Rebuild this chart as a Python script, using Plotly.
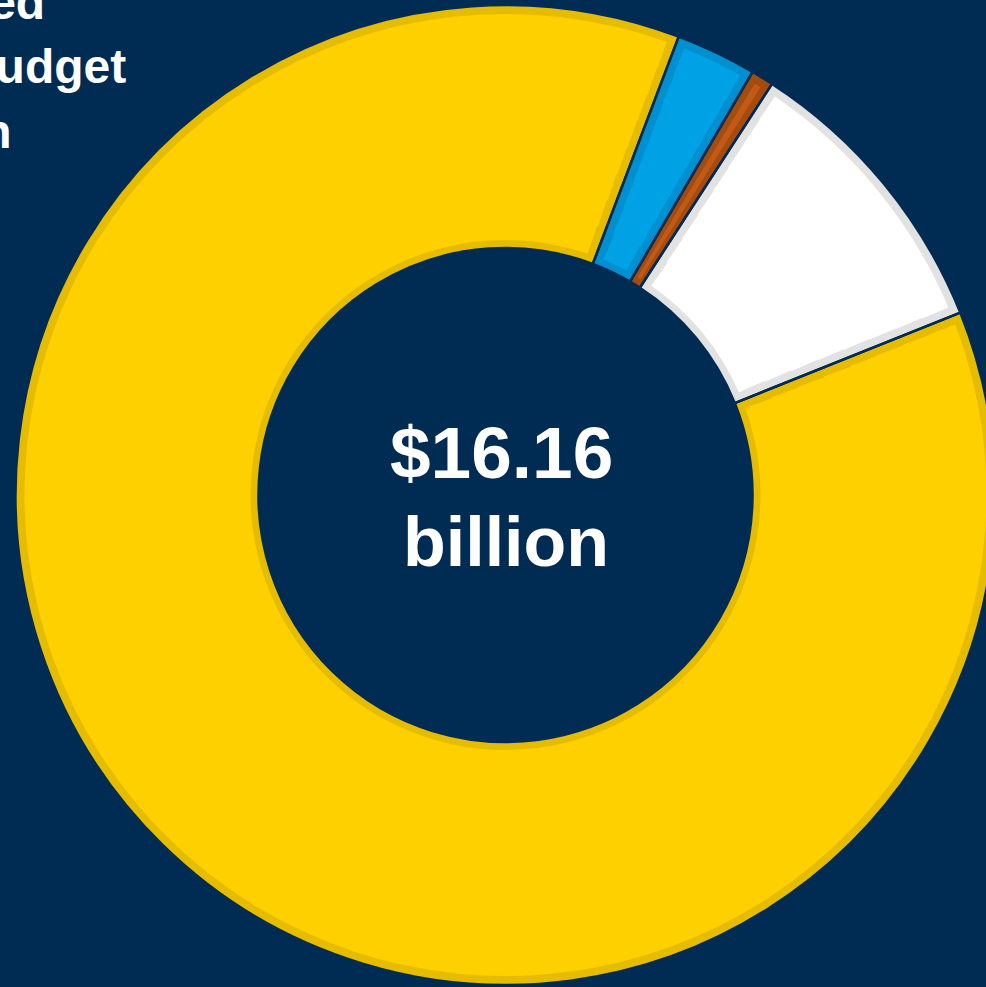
import math
import plotly.graph_objects as go

# Budget breakdown ($ billions), drawn clockwise from the first slice
categories = ["Research programs", "Infrastructure", "Administration", "Education & outreach"]
values = [14.03, 0.43, 0.12, 1.58]
center_lines = ["$16.16", "billion"]
heading_lines = ["Total Enacted", "FY 2021 Budget", "for Research"]

BG = "#002B53"
edge_colors = ["#E6BC00", "#008FCF", "#A64B0E", "#E2E2E2"]
face_colors = ["#FFD000", "#00A2E6", "#C05A16", "#FFFFFF"]
FONT = "Liberation Sans, Arial, Helvetica, sans-serif"

START_ANGLE = 68.15          # degrees clockwise from 12 o'clock
W, H = 996, 987
M = dict(l=15, r=0, t=5, b=2)
PW, PH = W - M["l"] - M["r"], H - M["t"] - M["b"]
R_OUT = min(PW, PH) / 2.0
R_IN = 247.0
EDGE_OUT, EDGE_IN, EDGE_SIDE = 9.0, 8.0, 9.0
N_RINGS = 8

total = sum(values)
spans = [v / total * 360.0 for v in values]
centers, acc = [], START_ANGLE
for sp in spans:
    centers.append((acc + sp / 2.0) % 360.0)
    acc += sp

fig = go.Figure()

# slice rims: full sectors in the darker shade
fig.add_trace(go.Barpolar(
    theta=centers, width=spans,
    base=[R_IN] * len(values), r=[R_OUT - R_IN] * len(values),
    marker=dict(color=edge_colors, line=dict(width=0)),
    hoverinfo="skip", showlegend=False,
))

# slice faces: lighter fill inset from each outline (stacked rings keep
# the side inset close to a constant pixel width)
r0, r1 = R_IN + EDGE_IN, R_OUT - EDGE_OUT
step = (r1 - r0) / N_RINGS
for k in range(N_RINGS):
    a = r0 + k * step
    b = a + step + (1.0 if k < N_RINGS - 1 else 0.0)
    rm = (a + b) / 2.0
    inset = math.degrees(EDGE_SIDE / rm)
    widths = [max(sp - 2 * inset, 0.3 * sp) for sp in spans]
    fig.add_trace(go.Barpolar(
        theta=centers, width=widths,
        base=[a] * len(values), r=[b - a] * len(values),
        marker=dict(color=face_colors, line=dict(width=0)),
        hoverinfo="skip", showlegend=False,
    ))

# donut outline on top: navy seams between slices
fig.add_trace(go.Pie(
    labels=categories, values=values, sort=False,
    direction="clockwise", rotation=START_ANGLE,
    hole=R_IN / R_OUT,
    marker=dict(colors=["rgba(0,0,0,0)"] * len(values), line=dict(color=BG, width=2.5)),
    textinfo="none", hoverinfo="label+value+percent",
    domain=dict(x=[0, 1], y=[0, 1]),
))


def px_x(x):
    return (x - M["l"]) / PW


def px_y(y):
    return (H - M["b"] - y) / PH


annotations = []
# total in the hole
for text, cx, cy, size in [(center_lines[0], 501.5, 452.5, 73), (center_lines[1], 506, 542, 70)]:
    annotations.append(dict(
        text=text, x=px_x(cx), y=px_y(cy), xref="paper", yref="paper",
        xanchor="center", yanchor="middle", showarrow=False, borderpad=0,
        font=dict(family=FONT, size=size, color="white", weight="bold"),
    ))
# heading, running off the top-left corner
for text, rx, cy in zip(heading_lines, [46, 127, 11.5], [2.4, 66.4, 131.4]):
    annotations.append(dict(
        text=text, x=px_x(rx), y=px_y(cy), xref="paper", yref="paper",
        xanchor="right", yanchor="middle", showarrow=False, borderpad=0,
        font=dict(family=FONT, size=48, color="white", weight="bold"),
    ))

fig.update_layout(
    width=W, height=H, margin=dict(**M, pad=0),
    paper_bgcolor=BG, plot_bgcolor=BG, showlegend=False,
    polar=dict(
        domain=dict(x=[0, 1], y=[0, 1]),
        bgcolor="rgba(0,0,0,0)", hole=0, barmode="overlay",
        radialaxis=dict(range=[0, R_OUT], visible=False, showgrid=False),
        angularaxis=dict(rotation=90, direction="clockwise", visible=False, showgrid=False),
    ),
    annotations=annotations,
)

fig.write_html("out.html")
